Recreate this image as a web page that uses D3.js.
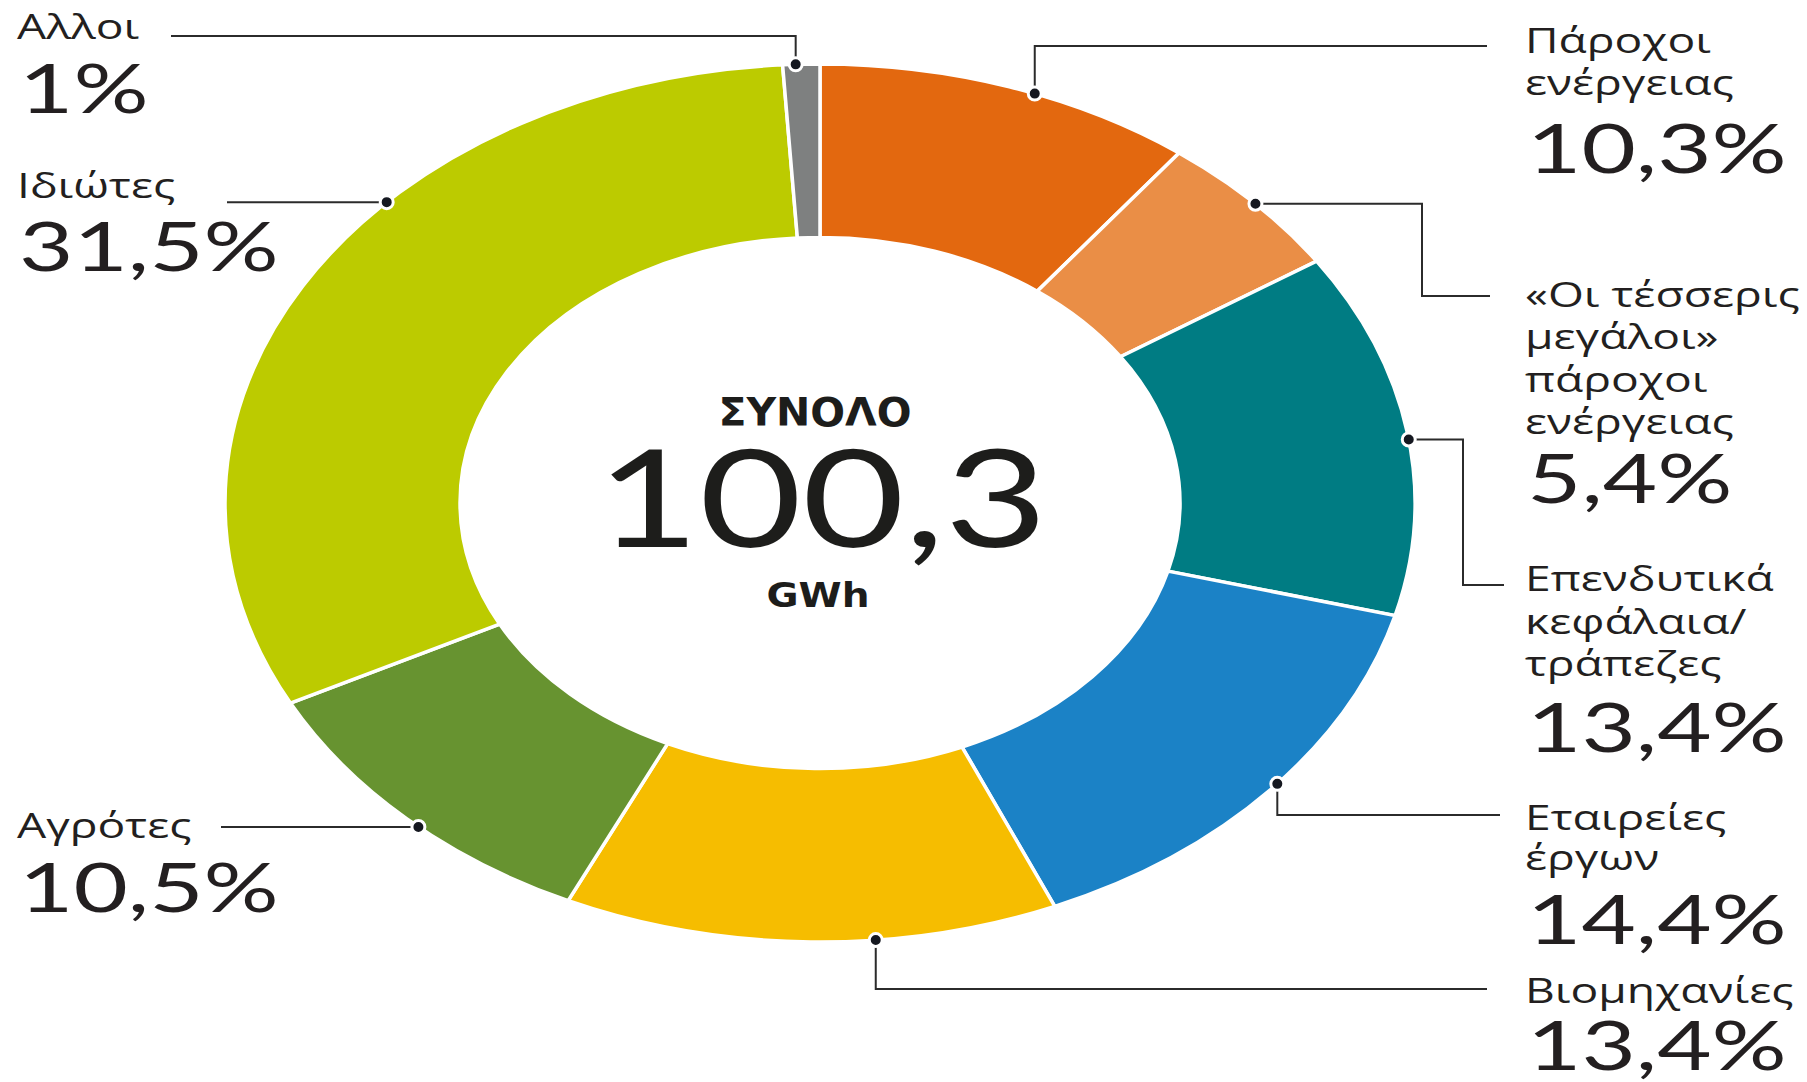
<!DOCTYPE html>
<html>
<head>
<meta charset="utf-8">
<script src="https://cdn.jsdelivr.net/npm/d3@7"></script>
<style>
body { margin: 0; background: #fff; }
.lbl { font-family: "Open Sans", "Noto Sans", sans-serif; font-size: 35px; fill: #231f20; }
.num { font-family: Lato, Roboto, sans-serif; font-size: 68px; fill: #231f20; }
</style>
</head>
<body>
<svg width="1807" height="1082"></svg>
<script>
// values
var labelLines = [
  ["Πάροχοι", "ενέργειας"],
  ["«Οι τέσσερις", "μεγάλοι»", "πάροχοι", "ενέργειας"],
  ["Επενδυτικά", "κεφάλαια/", "τράπεζες"],
  ["Εταιρείες", "έργων"],
  ["Βιομηχανίες"],
  ["Αγρότες"],
  ["Ιδιώτες"],
  ["Αλλοι"]
];
var shares = [10.3, 5.4, 13.4, 14.4, 13.4, 10.5, 31.5, 1];
var shareLabels = ["10,3%", "5,4%", "13,4%", "14,4%", "13,4%", "10,5%", "31,5%", "1%"];
var colors = ["#e3680f", "#ea8e46", "#007c83", "#1b82c6", "#f6bd00", "#679330", "#bccb00", "#7e8080"];
var totalTitle = "ΣΥΝΟΛΟ";
var totalValue = "100,3";
var totalUnit = "GWh";

// label placement: where the dot sits in its slice, the elbow of the leader, text baselines
var layout = [
  {frac: 0.57, path: [["v", 46], ["h", 1487]], x: 1525, y: [53, 95], ny: 173},
  {frac: 0.51, path: [["h", 1422], ["v", 296], ["h", 1490]], x: 1525, y: [307, 349, 392, 434], ny: 503},
  {frac: 0.52, path: [["h", 1463], ["v", 585], ["h", 1504]], x: 1525, y: [591, 634, 676], ny: 752},
  {frac: 0.48, path: [["v", 815], ["h", 1500]], x: 1525, y: [830, 870], ny: 944},
  {frac: 0.37, path: [["v", 989], ["h", 1487]], x: 1525, y: [1003], ny: 1070},
  {frac: 0.46, path: [["h", 221]], x: 17, y: [838], ny: 912},
  {frac: 0.62, path: [["h", 227]], x: 17, y: [198], ny: 271},
  {frac: 0.35, path: [["v", 36], ["h", 171]], x: 17, y: [39], ny: 113}
];

var svg = d3.select("svg");
var cx = 820, cy = 503;
var rx = 595, ry = 439;
var inner = 0.605;
var stretch = 1.32;    // the whole graphic is drawn wider than tall
var numStretch = 1.38;

var pie = d3.pie().sort(null).value(function(d) { return d; });
var arcs = pie(shares);
var arc = d3.arc().innerRadius(ry * inner).outerRadius(ry);

var g = svg.append("g")
  .attr("transform", "translate(" + cx + "," + cy + ") scale(" + (rx / ry) + ",1)");

g.selectAll("path")
  .data(arcs)
  .enter().append("path")
  .attr("d", arc)
  .attr("fill", function(d, i) { return colors[i]; })
  .attr("stroke", "#fff")
  .attr("stroke-width", 3.5)
  .attr("vector-effect", "non-scaling-stroke");

function edgePoint(d, frac) {
  var a = d.startAngle + frac * (d.endAngle - d.startAngle);
  return [cx + rx * Math.sin(a), cy - ry * Math.cos(a)];
}

// leaders, dots and labels
arcs.forEach(function(d, i) {
  var L = layout[i];
  var p = edgePoint(d, L.frac);
  var pts = [p.slice()];
  var cur = p.slice();
  L.path.forEach(function(s) {
    if (s[0] == "v") cur = [cur[0], s[1]];
    else cur = [s[1], cur[1]];
    pts.push(cur);
  });
  svg.append("path")
    .attr("d", d3.line()(pts))
    .attr("fill", "none")
    .attr("stroke", "#2b2b2b")
    .attr("stroke-width", 2);
  svg.append("circle")
    .attr("cx", p[0])
    .attr("cy", p[1])
    .attr("r", 6.5)
    .attr("fill", "#151820")
    .attr("stroke", "#fff")
    .attr("stroke-width", 3);

  labelLines[i].forEach(function(t, j) {
    svg.append("text")
      .attr("class", "lbl")
      .attr("transform", "translate(" + L.x + "," + L.y[j] + ") scale(" + stretch + ",1)")
      .text(t);
  });
  svg.append("text")
    .attr("class", "num")
    .attr("transform", "translate(" + (L.x + 2) + "," + L.ny + ") scale(" + numStretch + ",1)")
    .text(shareLabels[i]);
});

// centre
svg.append("text")
  .attr("transform", "translate(815,426) scale(1.05,1)")
  .attr("text-anchor", "middle")
  .attr("font-family", "DejaVu Sans, sans-serif")
  .attr("font-weight", "bold")
  .attr("font-size", 39)
  .attr("fill", "#1d1d1b")
  .text(totalTitle);

svg.append("text")
  .attr("transform", "translate(822,547) scale(1.31,1)")
  .attr("text-anchor", "middle")
  .attr("font-family", "Lato, Roboto, sans-serif")
  .attr("font-size", 135)
  .attr("fill", "#1d1d1b")
  .text(totalValue);

svg.append("text")
  .attr("transform", "translate(818,607) scale(1.15,1)")
  .attr("text-anchor", "middle")
  .attr("font-family", "DejaVu Sans, sans-serif")
  .attr("font-weight", "bold")
  .attr("font-size", 34)
  .attr("fill", "#1d1d1b")
  .text(totalUnit);
</script>
</body>
</html>
